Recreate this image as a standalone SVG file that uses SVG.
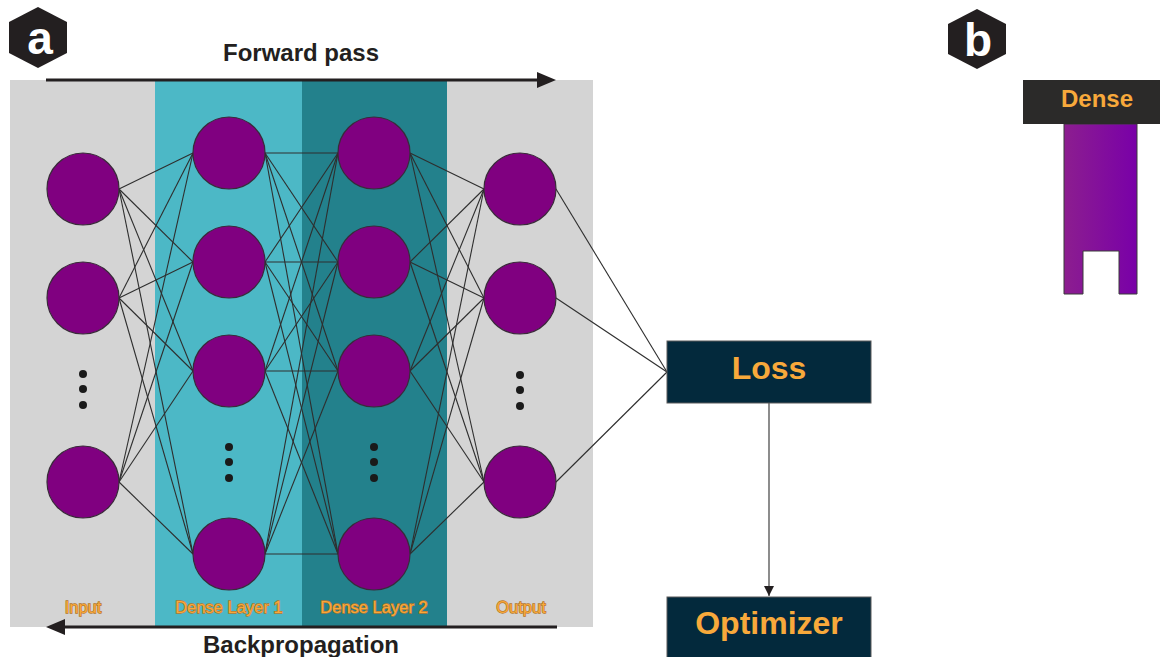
<svg xmlns="http://www.w3.org/2000/svg" width="1160" height="657" viewBox="0 0 1160 657">
<defs>
<style>
.node{fill:#800080;stroke:#3a2a3a;stroke-width:1.2}
.edge{stroke:#2e2e2e;stroke-width:1.1;fill:none}
.dot{fill:#1a1a1a}
.lbl{font-family:"Liberation Sans",Arial,sans-serif;font-size:16.5px;fill:#f8a93b;stroke:#b5772a;stroke-width:1.3;paint-order:stroke;text-anchor:middle}
.title{font-family:"Liberation Sans",Arial,sans-serif;font-size:24px;font-weight:bold;fill:#231f20;text-anchor:middle}
.box{fill:#03293c;stroke:#5a5a5a;stroke-width:1}
.boxtxt{font-family:"Liberation Sans",Arial,sans-serif;font-size:32px;font-weight:bold;fill:#f8a93b;text-anchor:middle}
.badge{fill:#231f20}
.badgetxt{font-family:"Liberation Sans",Arial,sans-serif;font-size:46px;font-weight:bold;fill:#ffffff;text-anchor:middle}
</style>
<linearGradient id="purp" x1="0" y1="0" x2="1" y2="0">
<stop offset="0" stop-color="#8c1e8f"/>
<stop offset="1" stop-color="#7900a8"/>
</linearGradient>
<marker id="ah" viewBox="0 0 10 10" refX="10" refY="5" markerWidth="10" markerHeight="13" markerUnits="userSpaceOnUse" orient="auto">
<path d="M0,0 L10,5 L0,10 z" fill="#231f20"/>
</marker>
</defs>

<g id="panel">
<rect x="10" y="80" width="583" height="547" fill="#d4d4d4"/>
<rect x="155" y="80" width="147" height="547" fill="#4cb8c6"/>
<rect x="302" y="80" width="145" height="547" fill="#23818c"/>
</g>

<g id="badge-a">
<polygon class="badge" points="38,7 67,22 67,53 38,68 9,53 9,22"/>
<text class="badgetxt" x="40" y="54">a</text>
</g>
<g id="badge-b">
<polygon class="badge" points="977,9 1006,24 1006,54 977,69 948,54 948,24"/>
<text class="badgetxt" x="978" y="56">b</text>
</g>

<g id="forward-pass">
<line x1="46" y1="80" x2="540" y2="80" stroke="#231f20" stroke-width="3"/>
<polygon points="556,80 537,72 537,88" fill="#231f20"/>
<text class="title" x="301" y="61">Forward pass</text>
</g>
<g id="backpropagation">
<line x1="557" y1="627" x2="62" y2="627" stroke="#231f20" stroke-width="3"/>
<polygon points="46,627 65,619 65,635" fill="#231f20"/>
<text class="title" x="301" y="653">Backpropagation</text>
</g>

<g id="connectors">
<line class="edge" x1="119" y1="189" x2="193" y2="153"/>
<line class="edge" x1="119" y1="189" x2="193" y2="262"/>
<line class="edge" x1="119" y1="189" x2="193" y2="371"/>
<line class="edge" x1="119" y1="189" x2="193" y2="554"/>
<line class="edge" x1="119" y1="298" x2="193" y2="153"/>
<line class="edge" x1="119" y1="298" x2="193" y2="262"/>
<line class="edge" x1="119" y1="298" x2="193" y2="371"/>
<line class="edge" x1="119" y1="298" x2="193" y2="554"/>
<line class="edge" x1="119" y1="482" x2="193" y2="153"/>
<line class="edge" x1="119" y1="482" x2="193" y2="262"/>
<line class="edge" x1="119" y1="482" x2="193" y2="371"/>
<line class="edge" x1="119" y1="482" x2="193" y2="554"/>
<line class="edge" x1="265" y1="153" x2="338" y2="153"/>
<line class="edge" x1="265" y1="153" x2="338" y2="262"/>
<line class="edge" x1="265" y1="153" x2="338" y2="371"/>
<line class="edge" x1="265" y1="153" x2="338" y2="554"/>
<line class="edge" x1="265" y1="262" x2="338" y2="153"/>
<line class="edge" x1="265" y1="262" x2="338" y2="262"/>
<line class="edge" x1="265" y1="262" x2="338" y2="371"/>
<line class="edge" x1="265" y1="262" x2="338" y2="554"/>
<line class="edge" x1="265" y1="371" x2="338" y2="153"/>
<line class="edge" x1="265" y1="371" x2="338" y2="262"/>
<line class="edge" x1="265" y1="371" x2="338" y2="371"/>
<line class="edge" x1="265" y1="371" x2="338" y2="554"/>
<line class="edge" x1="265" y1="554" x2="338" y2="153"/>
<line class="edge" x1="265" y1="554" x2="338" y2="262"/>
<line class="edge" x1="265" y1="554" x2="338" y2="371"/>
<line class="edge" x1="265" y1="554" x2="338" y2="554"/>
<line class="edge" x1="410" y1="153" x2="484" y2="189"/>
<line class="edge" x1="410" y1="153" x2="484" y2="298"/>
<line class="edge" x1="410" y1="153" x2="484" y2="482"/>
<line class="edge" x1="410" y1="262" x2="484" y2="189"/>
<line class="edge" x1="410" y1="262" x2="484" y2="298"/>
<line class="edge" x1="410" y1="262" x2="484" y2="482"/>
<line class="edge" x1="410" y1="371" x2="484" y2="189"/>
<line class="edge" x1="410" y1="371" x2="484" y2="298"/>
<line class="edge" x1="410" y1="371" x2="484" y2="482"/>
<line class="edge" x1="410" y1="554" x2="484" y2="189"/>
<line class="edge" x1="410" y1="554" x2="484" y2="298"/>
<line class="edge" x1="410" y1="554" x2="484" y2="482"/>
<line class="edge" x1="556" y1="189" x2="667" y2="372"/>
<line class="edge" x1="556" y1="298" x2="667" y2="372"/>
<line class="edge" x1="556" y1="482" x2="667" y2="372"/>
<line class="edge" x1="769" y1="403" x2="769" y2="596" marker-end="url(#ah)"/>
</g>

<g id="input-layer">
<circle class="node" cx="83" cy="189" r="36"/>
<circle class="node" cx="83" cy="298" r="36"/>
<circle class="node" cx="83" cy="482" r="36"/>
<circle class="dot" cx="83" cy="374" r="4"/>
<circle class="dot" cx="83" cy="389" r="4"/>
<circle class="dot" cx="83" cy="405" r="4"/>
<text class="lbl" x="83" y="613">Input</text>
</g>

<g id="dense-layer-1">
<circle class="node" cx="229" cy="153" r="36"/>
<circle class="node" cx="229" cy="262" r="36"/>
<circle class="node" cx="229" cy="371" r="36"/>
<circle class="node" cx="229" cy="554" r="36"/>
<circle class="dot" cx="229" cy="447" r="4"/>
<circle class="dot" cx="229" cy="462" r="4"/>
<circle class="dot" cx="229" cy="478" r="4"/>
<text class="lbl" x="229" y="613">Dense Layer 1</text>
</g>

<g id="dense-layer-2">
<circle class="node" cx="374" cy="153" r="36"/>
<circle class="node" cx="374" cy="262" r="36"/>
<circle class="node" cx="374" cy="371" r="36"/>
<circle class="node" cx="374" cy="554" r="36"/>
<circle class="dot" cx="374" cy="447" r="4"/>
<circle class="dot" cx="374" cy="462" r="4"/>
<circle class="dot" cx="374" cy="478" r="4"/>
<text class="lbl" x="374" y="613">Dense Layer 2</text>
</g>

<g id="output-layer">
<circle class="node" cx="520" cy="189" r="36"/>
<circle class="node" cx="520" cy="298" r="36"/>
<circle class="node" cx="520" cy="482" r="36"/>
<circle class="dot" cx="520" cy="375" r="4"/>
<circle class="dot" cx="520" cy="390" r="4"/>
<circle class="dot" cx="520" cy="406" r="4"/>
<text class="lbl" x="521" y="613">Output</text>
</g>

<g id="loss">
<rect class="box" x="667" y="341" width="204" height="62"/>
<text class="boxtxt" x="769" y="379">Loss</text>
</g>

<g id="optimizer">
<rect class="box" x="667" y="597" width="204" height="70"/>
<text class="boxtxt" x="769" y="634">Optimizer</text>
</g>

<g id="dense-block">
<path d="M1064,124 L1137,124 L1137,294 L1119,294 L1119,251 L1083,251 L1083,294 L1064,294 Z" fill="url(#purp)" stroke="#3a3a3a" stroke-width="1"/>
<rect x="1023" y="80" width="142" height="44" fill="#2b2a29"/>
<text x="1097" y="107" font-family="'Liberation Sans',Arial,sans-serif" font-size="24" font-weight="bold" fill="#f8a93b" text-anchor="middle">Dense</text>
</g>
</svg>
